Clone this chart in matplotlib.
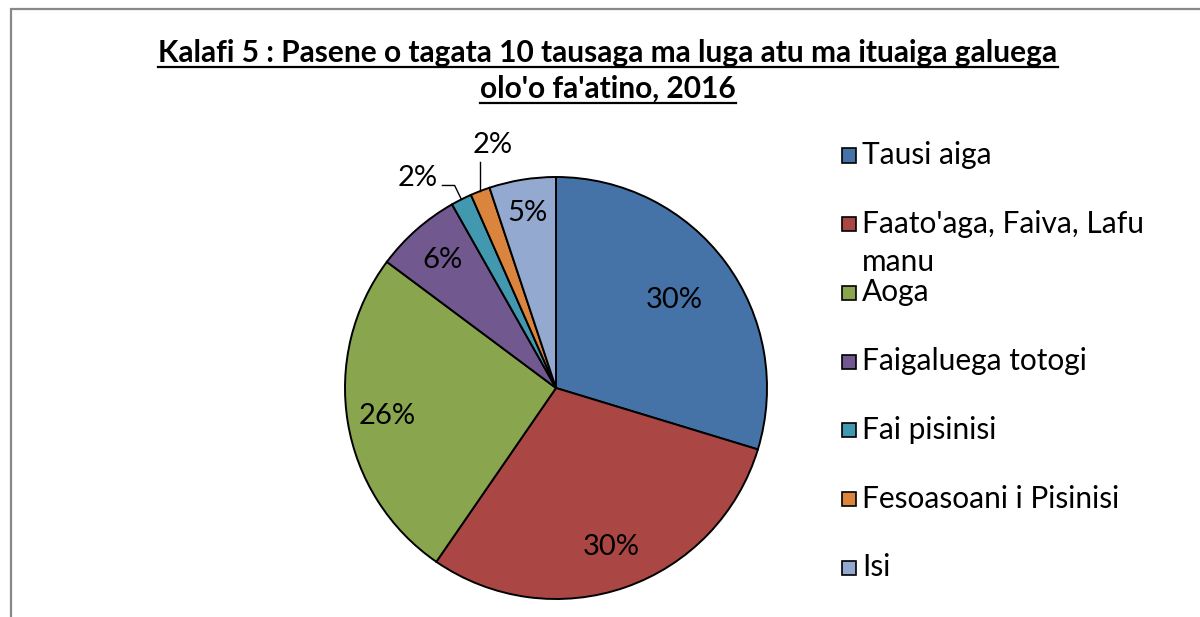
import matplotlib
matplotlib.use('Agg')
import numpy as np
import matplotlib.pyplot as plt
from matplotlib.patches import Rectangle
from matplotlib.lines import Line2D

# data
labels = ['Tausi aiga', "Faato'aga, Faiva, Lafu\nmanu", 'Aoga', 'Faigaluega totogi',
          'Fai pisinisi', 'Fesoasoani i Pisinisi', 'Isi']
values = [29.7, 29.9, 25.6, 6.6, 1.6, 1.5, 5.1]
pct_text = ['30%', '30%', '26%', '6%', '2%', '2%', '5%']
colors = ['#4572A7', '#AA4643', '#89A54E', '#71588F', '#4198AF', '#DB843D', '#93A9CF']
title_lines = ["Kalafi 5 : Pasene o tagata 10 tausaga ma luga atu ma ituaiga galuega",
               "olo'o fa'atino, 2016"]

W, H = 1200, 617
fig = plt.figure(figsize=(W / 100, H / 100), dpi=100)
regular = ['Lato', 'DejaVu Sans']
lab_fs = 21

# chart frame (runs off the right and bottom edge)
fig.patches.append(Rectangle((10.5 / W, -0.1), 1.2, (H - 9) / H + 0.1, transform=fig.transFigure,
                             fill=False, edgecolor='#888888', linewidth=1.6))

# pie: centre (556, 388) px, radius 211 px
cx, cy, r = 556, 388, 211
ax = fig.add_axes([(cx - r) / W, (H - cy - r) / H, 2 * r / W, 2 * r / H])
wedges, _ = ax.pie(values, colors=colors, startangle=90, counterclock=False,
                   wedgeprops=dict(edgecolor='black', linewidth=1.4))
ax.set_xlim(-1, 1)
ax.set_ylim(-1, 1)
ax.set_aspect('equal')
ax.axis('off')

# percentage labels inside the bigger slices
dist = [0.70, 0.80, 0.81, 0.81, None, None, 0.84]
for w, t, d in zip(wedges, pct_text, dist):
    if d is None:
        continue
    a = np.deg2rad((w.theta1 + w.theta2) / 2)
    ax.text(d * np.cos(a), d * np.sin(a), t, ha='center', va='center',
            fontsize=lab_fs, family=regular)

# small slices: labels outside with leader lines
w = wedges[4]
a = np.deg2rad((w.theta1 + w.theta2) / 2)
ex, ey = np.cos(a), np.sin(a)
ax.plot([ex, ex - 0.032, ex - 0.09], [ey, ey + 0.066, ey + 0.066], color='black', lw=1, clip_on=False)
ax.text(ex - 0.205, ey + 0.1, pct_text[4], ha='center', va='center', fontsize=lab_fs, family=regular)

w = wedges[5]
a = np.deg2rad((w.theta1 + w.theta2) / 2)
ex, ey = np.cos(a), np.sin(a)
ax.plot([ex, ex], [ey, ey + 0.137], color='black', lw=1, clip_on=False)
ax.text(ex + 0.057, ey + 0.218, pct_text[5], ha='center', va='center', fontsize=lab_fs, family=regular)

# legend
for i, (lab, col) in enumerate(zip(labels, colors)):
    y = 155 + i * 68.7
    fig.patches.append(Rectangle((842 / W, (H - y - 7.5) / H), 14 / W, 14 / H, transform=fig.transFigure,
                                 facecolor=col, edgecolor='black', linewidth=1.2))
    for k, line in enumerate(lab.split('\n')):
        fig.text(862 / W, (H - y - k * 38) / H, line, ha='left', va='center',
                 fontsize=21.5, family=regular)

# title, underlined
fig.canvas.draw()
renderer = fig.canvas.get_renderer()
for k, line in enumerate(title_lines):
    base = 62 + k * 36
    t = fig.text(608 / W, (H - base) / H, line, ha='center', va='baseline',
                 fontsize=21.5, fontweight='bold', family=regular)
    bb = t.get_window_extent(renderer)
    fig.lines.append(Line2D([bb.x0 / W, bb.x1 / W], [(H - base - 5) / H] * 2,
                            transform=fig.transFigure, color='black', lw=1.6))

fig.savefig('out.png', dpi=100)
